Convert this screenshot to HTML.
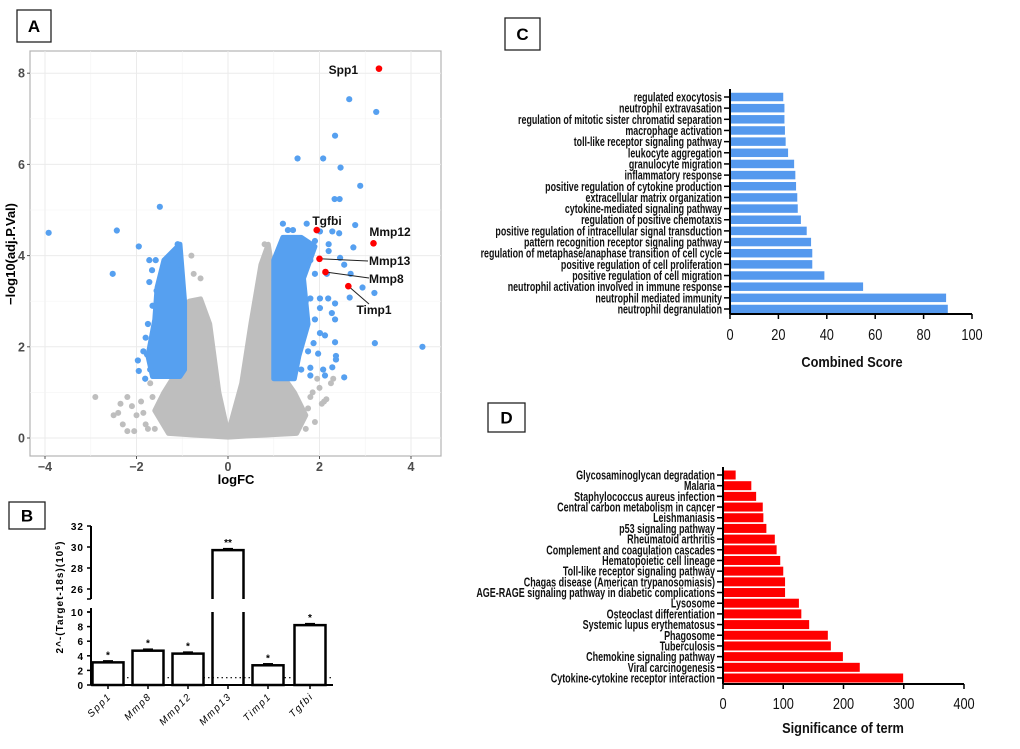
<!DOCTYPE html>
<html><head><meta charset="utf-8"><style>
html,body{margin:0;padding:0;background:#fff;}
svg{display:block;font-family:"Liberation Sans",sans-serif;}
</style></head><body>
<svg id="fig" width="1020" height="749" viewBox="0 0 1020 749">
<g id="pA"></g>
<g id="pB"></g>
<g id="pC"></g>
<g id="pD"></g>
</svg>
<script>
const NS="http://www.w3.org/2000/svg";
// ---- Panel A data ----
const greyCloud=[[0,0.02],[-0.5,0.05],[-1.3,0.1],[-1.6,0.6],[-1.4,1.0],[-1.15,1.4],[-1.0,2.4],[-0.85,3.0],[-0.6,3.05],[-0.4,2.5],[-0.2,1.0],[0,0.1],[0.3,1.2],[0.5,2.5],[0.72,3.8],[0.88,4.25],[1.0,3.5],[1.1,1.5],[1.45,1.0],[1.7,0.5],[1.5,0.1],[0.5,0.05]];
const greyPts=[[-2.9,0.9],[-2.4,0.55],[-2.35,0.75],[-2.2,0.9],[-2.1,0.7],[-2.0,0.5],[-2.3,0.3],[-2.2,0.15],[-2.05,0.15],[-1.8,0.3],[-1.75,0.2],[-1.6,0.2],[-1.9,0.8],[-1.7,1.2],[2.1,0.8],[2.05,0.75],[1.8,0.9],[1.7,0.2],[2.3,1.3],[2.25,1.2],[1.85,1.0],[1.6,0.5],[2.15,0.85],[2.0,1.1],[1.3,0.3],[1.5,0.6],[-1.4,0.4],[-1.2,0.8],[-0.8,4.0],[-0.75,3.6],[-0.6,3.5],[0.8,4.25],[0.85,3.9],[-2.5,0.5],[-1.85,0.55],[-1.65,0.9],[1.9,0.35],[1.75,0.65],[1.95,1.3]];
const blueLeft=[[-1.05,1.35],[-1.65,1.35],[-1.75,1.8],[-1.6,2.6],[-1.55,3.3],[-1.4,3.9],[-1.05,4.25],[-0.95,3.0],[-0.95,1.5]];
const blueRight=[[1.0,1.3],[1.0,3.9],[1.2,4.4],[1.6,4.4],[1.9,4.2],[1.65,3.5],[1.75,2.5],[1.55,1.8],[1.45,1.3]];
const bluePts=[[2.65,7.43],[3.24,7.15],[2.34,6.63],[1.52,6.13],[2.08,6.13],[2.46,5.93],[2.89,5.53],[2.33,5.24],[2.44,5.24],[-1.49,5.07],[-3.92,4.5],[-2.43,4.55],[-1.95,4.2],[-2.52,3.6],[4.25,2.0],[3.21,2.08],[2.78,4.67],[2.74,4.18],[3.2,3.18],[2.94,3.3],[2.66,3.08],[2.68,3.6],[2.54,3.8],[2.34,2.95],[2.34,2.6],[2.27,2.74],[2.34,2.1],[2.36,1.8],[2.36,1.72],[2.28,1.55],[2.54,1.33],[2.08,1.5],[2.12,1.37],[1.8,1.54],[1.8,1.37],[1.97,1.85],[1.87,2.08],[2.12,2.25],[2.01,2.3],[2.19,3.06],[2.01,3.06],[1.8,3.06],[2.01,2.85],[2.16,3.6],[2.2,4.1],[2.28,4.53],[2.43,4.49],[2.2,4.25],[2.01,4.53],[1.9,4.32],[2.45,3.95],[1.72,4.7],[1.2,4.7],[1.31,4.56],[1.42,4.56],[1.7,3.0],[1.6,2.2],[1.9,2.6],[1.75,1.9],[1.6,1.5],[1.9,3.6],[1.8,3.9],[1.7,4.0],[-1.97,1.7],[-1.95,1.47],[-1.81,1.3],[-1.77,1.83],[-1.72,3.9],[-1.58,3.9],[-1.29,3.9],[-1.22,3.9],[-1.1,4.25],[-1.1,3.8],[-1.66,3.68],[-1.72,3.42],[-1.56,3.23],[-1.8,2.2],[-1.75,2.5],[-1.85,1.9],[-1.7,1.5],[-1.65,2.9]];
const redNames=["Spp1","Tgfbi","Mmp12","Mmp13","Mmp8","Timp1"];
const redX=[3.30,1.94,3.18,2.0,2.13,2.63];
const redY=[8.1,4.56,4.27,3.93,3.64,3.33];
const aXTicks=[-4,-2,0,2,4];
const aYTicks=[0,2,4,6,8];
// ---- Panel B data ----
const bGenes=["Spp1","Mmp8","Mmp12","Mmp13","Timp1","Tgfbi"];
const bValues=[3.1,4.7,4.3,29.7,2.7,8.2];
const bStars=["*","*","*","**","*","*"];
const bLowTicks=[0,2,4,6,8,10];
const bHighTicks=[26,28,30,32];
// ---- Panel C data ----
const cTerms=["regulated exocytosis","neutrophil extravasation","regulation of mitotic sister chromatid separation","macrophage activation","toll-like receptor signaling pathway","leukocyte aggregation","granulocyte migration","inflammatory response","positive regulation of cytokine production","extracellular matrix organization","cytokine-mediated signaling pathway","regulation of positive chemotaxis","positive regulation of intracellular signal transduction","pattern recognition receptor signaling pathway","regulation of metaphase/anaphase transition of cell cycle","positive regulation of cell proliferation","positive regulation of cell migration","neutrophil activation involved in immune response","neutrophil mediated immunity","neutrophil degranulation"];
const cScores=[22,22.5,22.5,22.7,23,24,26.5,27,27.3,27.8,28,29.3,31.7,33.5,34,34,39,55,89.3,90];
const cTicks=[0,20,40,60,80,100];
// ---- Panel D data ----
const dTerms=["Glycosaminoglycan degradation","Malaria","Staphylococcus aureus infection","Central carbon metabolism in cancer","Leishmaniasis","p53 signaling pathway","Rheumatoid arthritis","Complement and coagulation cascades","Hematopoietic cell lineage","Toll-like receptor signaling pathway","Chagas disease (American trypanosomiasis)","AGE-RAGE signaling pathway in diabetic complications","Lysosome","Osteoclast differentiation","Systemic lupus erythematosus","Phagosome","Tuberculosis","Chemokine signaling pathway","Viral carcinogenesis","Cytokine-cytokine receptor interaction"];
const dScores=[21,47,55,66,67,72,86,89,95,100,103,103,126,130,143,174,179,199,227,299];
const dTicks=[0,100,200,300,400];

function el(parent,tag,attrs,text){const e=document.createElementNS(NS,tag);for(const k in attrs)e.setAttribute(k,attrs[k]);if(text!==undefined)e.textContent=text;parent.appendChild(e);return e;}

function box(x,y,w,h,label,name){
  const g=el(document.getElementById('fig'),'g',{});
  
  
  el(g,'rect',{x:x,y:y,width:w,height:h,fill:'#fff',stroke:'#222','stroke-width':1.3});
  el(g,'text',{x:x+w/2,y:y+h/2+6,'text-anchor':'middle','font-size':17,'font-weight':'bold'},label);
}
box(17,10,34,32,'A','panel-label-a');
box(9,502,36,27,'B','panel-label-b');
box(505,18,35,32,'C','panel-label-c');
box(488,403,37,29,'D','panel-label-d');

// ---- Panel A ----
(function(){
  const g=document.getElementById('pA');
  const L=30,T=51,R=441,B=456;
  const sx=v=>228+v*45.75, sy=v=>438-v*45.6;
  el(g,'rect',{x:L,y:T,width:R-L,height:B-T,fill:'#fff',stroke:'#b3b3b3','stroke-width':1.2});
  for(let v=-4;v<=4;v++){el(g,'line',{x1:sx(v),x2:sx(v),y1:T,y2:B,stroke:v%2===0?'#ebebeb':'#f4f4f4','stroke-width':v%2===0?1:0.6});}
  for(let v=0;v<=8;v++){el(g,'line',{x1:L,x2:R,y1:sy(v),y2:sy(v),stroke:v%2===0?'#ebebeb':'#f4f4f4','stroke-width':v%2===0?1:0.6});}
  const pts=a=>a.map(p=>sx(p[0])+','+sy(p[1])).join(' ');
  const cloud=el(g,'polygon',{points:pts(greyCloud),fill:'#bebebe',stroke:'#bebebe','stroke-width':5,'stroke-linejoin':'round'});
  
  
  greyPts.forEach(p=>{const c=el(g,'circle',{cx:sx(p[0]),cy:sy(p[1]),r:3,fill:'#bebebe'});
    
    });
  [blueLeft,blueRight].forEach(poly=>{const p=el(g,'polygon',{points:pts(poly),fill:'#56a0f0',stroke:'#56a0f0','stroke-width':5,'stroke-linejoin':'round'});
    
    });
  bluePts.forEach(p=>{const c=el(g,'circle',{cx:sx(p[0]),cy:sy(p[1]),r:3.1,fill:'#56a0f0'});
    
    });
  const lab=[[358,74,'end'],[327,225,'middle'],[390,236,'middle'],[369,265,'start'],[369,283,'start'],[374,314,'middle']];
  const lead=[null,null,null,[368,261],[369,278],[369,304]];
  redNames.forEach((n,i)=>{
    const x=sx(redX[i]),y=sy(redY[i]);
    if(lead[i]){const l=el(g,'line',{x1:x,y1:y,x2:lead[i][0],y2:lead[i][1],stroke:'#222','stroke-width':1});
      
      }
    const c=el(g,'circle',{cx:x,cy:y,r:3.3,fill:'#f00'});
    
    
    const t=el(g,'text',{x:lab[i][0],y:lab[i][1],'text-anchor':lab[i][2],'font-size':12,'font-weight':'bold',fill:'#111'},n);
    
    
  });
  aXTicks.forEach(v=>{el(g,'line',{x1:sx(v),x2:sx(v),y1:B,y2:B+3,stroke:'#555'});
    const t=el(g,'text',{x:sx(v),y:B+15,'text-anchor':'middle','font-size':12.5,'font-weight':'bold',fill:'#4d4d4d'},v<0?'\u2212'+(-v):String(v));
    
    });
  aYTicks.forEach(v=>{el(g,'line',{x1:L-3,x2:L,y1:sy(v),y2:sy(v),stroke:'#555'});
    const t=el(g,'text',{x:L-5,y:sy(v)+4.5,'text-anchor':'end','font-size':12.5,'font-weight':'bold',fill:'#4d4d4d'},String(v));
    
    });
  const xt=el(g,'text',{x:236,y:484,'text-anchor':'middle','font-size':13,'font-weight':'bold'},'logFC');
  
  
  const yt=el(g,'text',{x:0,y:0,transform:'translate(15,254) rotate(-90)','text-anchor':'middle','font-size':13,'font-weight':'bold'},'\u2212log10(adj.P.Val)');
  
  
})();

// ---- Panel B ----
(function(){
  const g=document.getElementById('pB');
  const ax=91, x1=333;
  const lowY=v=>685-v*7.3, highY=v=>589-(v-26)*10.5;
  const centers=[108,148,188,228,268,310], bw=31;
  el(g,'line',{x1:ax,x2:ax,y1:685,y2:608,stroke:'#000','stroke-width':2});
  el(g,'line',{x1:ax,x2:ax,y1:599,y2:526,stroke:'#000','stroke-width':2});
  el(g,'line',{x1:ax,x2:x1,y1:685,y2:685,stroke:'#000','stroke-width':2});
  el(g,'line',{x1:ax,x2:x1,y1:lowY(1),y2:lowY(1),stroke:'#000','stroke-width':1.2,'stroke-dasharray':'1.5,3'});
  bLowTicks.forEach(v=>{el(g,'line',{x1:ax-4,x2:ax,y1:lowY(v),y2:lowY(v),stroke:'#000','stroke-width':1.5});
    const t=el(g,'text',{x:ax-7,y:lowY(v)+4,'text-anchor':'end','font-size':10,'font-weight':'bold','letter-spacing':1},String(v));
    
    });
  bHighTicks.forEach(v=>{el(g,'line',{x1:ax-4,x2:ax,y1:highY(v),y2:highY(v),stroke:'#000','stroke-width':1.5});
    const t=el(g,'text',{x:ax-7,y:highY(v)+4,'text-anchor':'end','font-size':10,'font-weight':'bold','letter-spacing':1},String(v));
    
    });
  el(g,'line',{x1:ax-4,x2:ax,y1:599,y2:599,stroke:'#000','stroke-width':1.5});
  el(g,'line',{x1:ax-4,x2:ax,y1:612,y2:612,stroke:'#000','stroke-width':1.5});
  bValues.forEach((v,i)=>{
    const cx=centers[i], x=cx-bw/2;
    let top;
    if(v>10){
      top=highY(v);
      const r1=el(g,'path',{d:`M${x},685 V612 M${x+bw},685 V612 M${x},599 V${top} H${x+bw} V599`,fill:'none',stroke:'#000','stroke-width':2.5});
      
      
    } else {
      top=lowY(v);
      const r=el(g,'rect',{x:x,y:top,width:bw,height:685-top,fill:'#fff',stroke:'#000','stroke-width':2.5});
      
      
    }
    el(g,'line',{x1:cx-5,x2:cx+5,y1:top-1.5,y2:top-1.5,stroke:'#000','stroke-width':1.5});
    const s=el(g,'text',{x:cx,y:top-4,'text-anchor':'middle','font-size':10,'font-weight':'bold'},bStars[i]);
    
    
    el(g,'line',{x1:cx,x2:cx,y1:685,y2:689,stroke:'#000','stroke-width':1.5});
    const t=el(g,'text',{x:0,y:0,transform:`translate(${cx+4},${697}) rotate(-45)`,'text-anchor':'end','font-size':10,'font-style':'italic','letter-spacing':1.5},bGenes[i]);
    
    
  });
  const yt=el(g,'text',{x:0,y:0,transform:'translate(63,597) rotate(-90)','text-anchor':'middle','font-size':10,'font-weight':'bold','letter-spacing':1},'2^-(Target-18s)(10');
  
  
  el(yt,'tspan',{'baseline-shift':'super','font-size':7},'6');
  el(yt,'tspan',{},')');
})();

function hbar(gid,terms,vals,ticks,x0,x1,max,yFirst,yLast,axisY,bh,color,tickY,title,titleX,titleY,sc){
  const g=document.getElementById(gid);
  const sx=v=>x0+(v/max)*(x1-x0);
  const step=(yLast-yFirst)/(terms.length-1);
  terms.forEach((t,i)=>{
    const cy=yFirst+i*step;
    const r=el(g,'rect',{x:x0,y:cy-bh/2,width:sx(vals[i])-x0,height:bh,fill:color});
    
    
    el(g,'line',{x1:x0-6,x2:x0,y1:cy,y2:cy,stroke:'#000','stroke-width':1.5});
    const tx=el(g,'text',{x:0,y:0,transform:`translate(${x0-8},${cy+4.5}) scale(${sc},1)`,'text-anchor':'end','font-size':12.5,'font-weight':'bold',fill:'#111'},t);
    
    
  });
  el(g,'line',{x1:x0,x2:x0,y1:yFirst-8,y2:axisY,stroke:'#000','stroke-width':2});
  el(g,'line',{x1:x0,x2:x1,y1:axisY,y2:axisY,stroke:'#000','stroke-width':2});
  ticks.forEach(v=>{el(g,'line',{x1:sx(v),x2:sx(v),y1:axisY,y2:axisY+5,stroke:'#000','stroke-width':1.5});
    const t=el(g,'text',{x:0,y:0,transform:`translate(${sx(v)},${tickY}) scale(0.8,1)`,'text-anchor':'middle','font-size':16,fill:'#111'},String(v));
    
    });
  const tt=el(g,'text',{x:0,y:0,transform:`translate(${titleX},${titleY}) scale(0.85,1)`,'text-anchor':'middle','font-size':15,'font-weight':'bold',fill:'#111'},title);
  
  
}
hbar('pC',cTerms,cScores,cTicks,730,972,100,97,309,314,8.5,'#5599ee',340,'Combined Score',852,367,0.71);
hbar('pD',dTerms,dScores,dTicks,723,964,400,475,678,684,9,'#ff0000',709,'Significance of term',843,733,0.72);
</script>
</body></html>
